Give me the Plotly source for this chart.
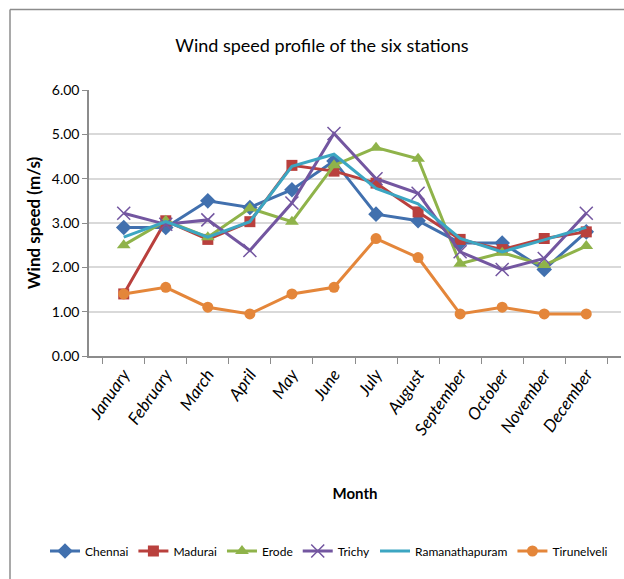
import plotly.graph_objects as go

months = ["January", "February", "March", "April", "May", "June", "July",
          "August", "September", "October", "November", "December"]

chennai = [2.90, 2.90, 3.50, 3.35, 3.75, 4.40, 3.20, 3.05, 2.55, 2.55, 1.95, 2.80]
madurai = [1.40, 3.05, 2.63, 3.03, 4.30, 4.17, 3.90, 3.25, 2.63, 2.40, 2.65, 2.80]
erode = [2.50, 3.05, 2.68, 3.33, 3.03, 4.30, 4.70, 4.45, 2.08, 2.33, 2.05, 2.48]
trichy = [3.22, 2.97, 3.07, 2.38, 3.45, 5.02, 4.00, 3.67, 2.35, 1.95, 2.20, 3.22]
ramanathapuram = [2.68, 3.03, 2.68, 3.03, 4.28, 4.55, 3.78, 3.43, 2.65, 2.35, 2.62, 2.90]
tirunelveli = [1.40, 1.55, 1.10, 0.95, 1.40, 1.55, 2.65, 2.22, 0.95, 1.10, 0.95, 0.95]

y_ticks = [0, 1, 2, 3, 4, 5, 6]

series = [
    ("Chennai", chennai, "#4170AE", "diamond", 12),
    ("Madurai", madurai, "#B9403D", "square", 11),
    ("Erode", erode, "#8FB34A", "triangle-up", 12),
    ("Trichy", trichy, "#7356A0", "x-thin", 13),
    ("Ramanathapuram", ramanathapuram, "#3CA6C2", None, 0),
    ("Tirunelveli", tirunelveli, "#E4863A", "circle", 11),
]

FONT = "Lato"

fig = go.Figure()
for name, vals, color, symbol, size in series:
    if symbol is None:
        mode = "lines"
        marker = dict()
    elif symbol == "x-thin":
        mode = "lines+markers"
        marker = dict(symbol=symbol, size=size, color=color,
                      line=dict(color=color, width=1.5))
    else:
        mode = "lines+markers"
        marker = dict(symbol=symbol, size=size, color=color)
    fig.add_trace(go.Scatter(
        x=months, y=vals, name=name, mode=mode,
        line=dict(color=color, width=3), marker=marker,
    ))

# plot-area pixel bounds and helpers to place items in paper coordinates
px_l, px_r, px_t, px_b = 89, 621, 90, 356
def to_px(xp):
    return (xp - px_l) / (px_r - px_l)
def to_py(yp):
    return (px_b - yp) / (px_b - px_t)

# chart frame (left and top edges)
fig.add_shape(type="line", xref="paper", yref="paper",
              x0=to_px(10), x1=to_px(640), y0=to_py(9.5), y1=to_py(9.5),
              line=dict(color="#8C8C8C", width=1.5))
fig.add_shape(type="line", xref="paper", yref="paper",
              x0=to_px(10), x1=to_px(10), y0=to_py(9.5), y1=to_py(590),
              line=dict(color="#8C8C8C", width=1.5))

fig.update_layout(
    width=624, height=579,
    margin=dict(l=px_l, r=624 - px_r, t=px_t, b=579 - px_b),
    paper_bgcolor="white", plot_bgcolor="white",
    title=dict(text="Wind speed profile of the six stations",
               x=0.516, xref="container", xanchor="center",
               y=1 - 46 / 579, yref="container", yanchor="middle",
               font=dict(family=FONT, size=18, color="#000000")),
    xaxis=dict(
        type="category", showgrid=False, showline=True, linecolor="#8C8C8C", linewidth=1.5,
        ticks="outside", tickson="boundaries", ticklen=6, tickcolor="#8C8C8C",
        tickangle=-55,
        tickfont=dict(family=FONT, size=17, style="italic", color="#000000"),
        title=dict(text="<b>Month</b>", standoff=50,
                   font=dict(family=FONT, size=15, color="#000000")),
    ),
    yaxis=dict(
        range=[0, 6], tickvals=y_ticks, tickformat=".2f",
        showgrid=True, gridcolor="#D9D9D9", gridwidth=2,
        showline=True, linecolor="#8C8C8C", linewidth=1.5,
        ticks="outside", ticklen=5, tickcolor="#8C8C8C",
        zeroline=False,
        tickfont=dict(family=FONT, size=14, color="#000000"),
        title=dict(text="<b>Wind speed (m/s)</b>", standoff=7,
                   font=dict(family=FONT, size=17, color="#000000")),
    ),
    legend=dict(
        orientation="h", xref="paper", yref="paper",
        x=to_px(45), xanchor="left", y=to_py(551), yanchor="middle",
        font=dict(family=FONT, size=12, color="#000000"),
        itemwidth=30, tracegroupgap=0,
    ),
    showlegend=True,
)

fig.write_html("out.html")
